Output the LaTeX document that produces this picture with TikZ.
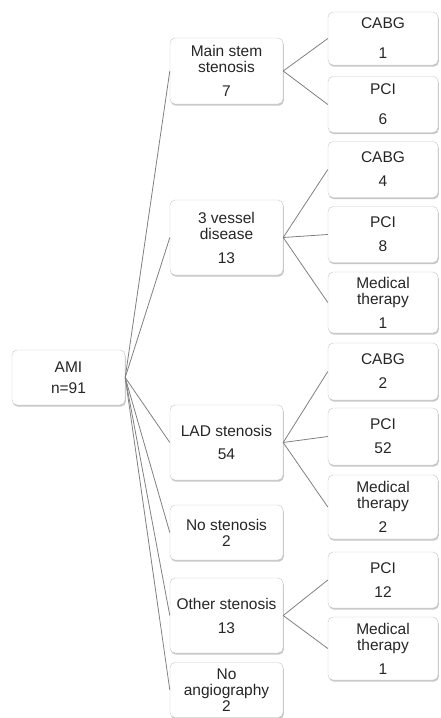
\documentclass[tikz,border=0pt]{standalone}
\usepackage{fontspec}
\setmainfont{Liberation Sans}
\usetikzlibrary{shapes, arrows, shadows}
\tikzstyle{group} = [rectangle, rounded corners=5pt, minimum width=113pt, minimum height=55pt, inner sep=0pt, align=center, text=black!85, draw=black!22, fill=white, drop shadow={shadow xshift=0.8pt, shadow yshift=-1.6pt, opacity=0.45}, font=\fontsize{15.5}{16}\selectfont]
\tikzstyle{tall} = [minimum height=75pt]
\tikzstyle{therapy} = [group, minimum width=110pt, minimum height=56pt]
\tikzstyle{link} = [draw=black!50, line width=0.8pt]

\begin{document}
\begin{tikzpicture}[x=1pt, y=1pt]
        \useasboundingbox (0,0) rectangle (440,-718);
        % Nodes
        \node (ami) [group] at (68.5,-377.5) {AMI\\[5pt]n=91};

        \node (mainstem) [group, minimum height=66pt] at (226.5,-71) {Main stem\\stenosis\\[8pt]7};
        \node (vessel) [group, tall] at (226.5,-237.5) {3 vessel\\disease\\[8pt]13};
        \node (lad) [group, tall] at (226.5,-442.5) {LAD stenosis\\[7pt]54};
        \node (nostenosis) [group] at (226.5,-532.5) {No stenosis\\2};
        \node (other) [group, tall] at (226.5,-615.5) {Other stenosis\\[8pt]13};
        \node (noangio) [group] at (226.5,-690) {No\\angiography\\2};

        \node (mscabg) [therapy, minimum height=53pt] at (383,-38.5) {CABG\\[14pt]1};
        \node (mspci) [therapy] at (383,-104.5) {PCI\\[14pt]6};
        \node (vcabg) [therapy] at (383,-169.5) {CABG\\[8pt]4};
        \node (vpci) [therapy] at (383,-234.5) {PCI\\[8pt]8};
        \node (vmed) [therapy, minimum height=61pt] at (383,-302.5) {Medical\\therapy\\[8pt]1};
        \node (ladcabg) [therapy, minimum height=57pt] at (383,-371.5) {CABG\\[8pt]2};
        \node (ladpci) [therapy, minimum height=57pt] at (383,-436.5) {PCI\\[8pt]52};
        \node (ladmed) [therapy, minimum height=64pt] at (383,-507) {Medical\\therapy\\[8pt]2};
        \node (opci) [therapy] at (383,-580) {PCI\\[8pt]12};
        \node (omed) [therapy, minimum height=63pt] at (383,-648.5) {Medical\\therapy\\[8pt]1};

        % Arrows
        \draw [link] (ami.east) -- (mainstem.west);
        \draw [link] (ami.east) -- (vessel.west);
        \draw [link] (ami.east) -- (lad.west);
        \draw [link] (ami.east) -- (nostenosis.west);
        \draw [link] (ami.east) -- (other.west);
        \draw [link] (ami.east) -- (noangio.west);

        \draw [link] (mainstem.east) -- (mscabg.west);
        \draw [link] (mainstem.east) -- (mspci.west);
        \draw [link] (vessel.east) -- (vcabg.west);
        \draw [link] (vessel.east) -- (vpci.west);
        \draw [link] (vessel.east) -- (vmed.west);
        \draw [link] (lad.east) -- (ladcabg.west);
        \draw [link] (lad.east) -- (ladpci.west);
        \draw [link] (lad.east) -- (ladmed.west);
        \draw [link] (other.east) -- (opci.west);
        \draw [link] (other.east) -- (omed.west);

    \end{tikzpicture}
\end{document}
